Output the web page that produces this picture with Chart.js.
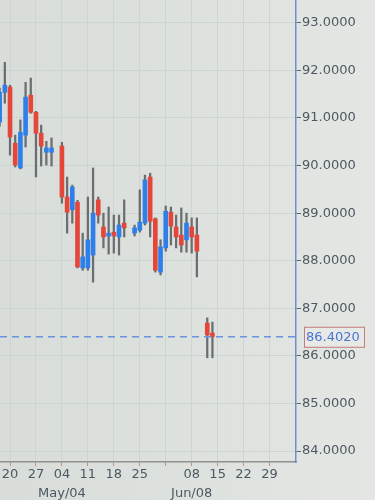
<!DOCTYPE html>
<html>
<head>
<meta charset="utf-8">
<script src="https://cdn.jsdelivr.net/npm/chart.js@4.4.0/dist/chart.umd.min.js"></script>
<style>
  html, body { margin: 0; padding: 0; background: #dfe3e0; }
  #wrap { width: 375px; height: 500px; }
</style>
</head>
<body>
<div id="wrap"><canvas id="price_chart"></canvas></div>
<script>
// trading day index, 0 = Mon Apr 20, five days a week
const days   = [-2, -1, 0, 1, 2, 3, 4, 5, 6, 7, 8, 10, 11, 12, 13, 14, 15, 16, 17, 18, 19, 20, 21, 22, 24, 25, 26, 27, 28, 29, 30, 31, 32, 33, 34, 35, 36, 38, 39]
const opens  = [90.91, 91.54, 91.65, 90.47, 89.95, 90.64, 91.48, 91.12, 90.68, 90.28, 90.28, 90.41, 89.34, 89.07, 89.23, 87.85, 87.85, 88.12, 89.28, 88.71, 88.52, 88.60, 88.50, 88.79, 88.58, 88.64, 88.79, 89.76, 88.88, 87.76, 88.27, 89.02, 88.71, 88.54, 88.44, 88.71, 88.54, 86.69, 86.48]
const highs  = [91.63, 92.17, 91.69, 90.64, 90.96, 91.75, 91.84, 91.14, 90.85, 90.51, 90.58, 90.49, 89.76, 89.59, 89.27, 88.58, 89.34, 89.95, 89.34, 89.00, 89.13, 88.96, 88.96, 89.28, 88.75, 89.49, 89.80, 89.84, 88.90, 88.44, 89.15, 89.13, 88.96, 89.11, 89.00, 88.90, 88.90, 86.80, 86.71]
const lows   = [90.83, 91.31, 90.22, 89.97, 89.93, 90.39, 91.10, 89.76, 89.99, 90.01, 89.99, 89.21, 88.58, 88.79, 87.85, 87.80, 87.80, 87.55, 88.79, 88.27, 88.14, 88.16, 88.12, 88.50, 88.52, 88.60, 88.75, 88.50, 87.76, 87.70, 88.20, 88.33, 88.27, 88.18, 88.18, 88.16, 87.66, 85.96, 85.96]
const closes = [91.54, 91.69, 90.60, 90.01, 90.70, 91.44, 91.12, 90.68, 90.41, 90.37, 90.37, 89.34, 89.02, 89.55, 87.87, 88.08, 88.44, 89.00, 88.96, 88.50, 88.58, 88.52, 88.75, 88.69, 88.69, 88.81, 89.70, 88.83, 87.80, 88.29, 89.04, 88.73, 88.50, 88.33, 88.79, 88.50, 88.20, 86.44, 86.402]

// weekly ticks (every 5 trading days from 0)
const weekLabels  = ['20', '27', '04', '11', '18', '25', '', '08', '15', '22', '29']
const monthLabels = ['', '', 'May/04', '', '', '', '', 'Jun/08', '', '', '']

const upColor = '#2f7fea'
const downColor = '#e4463a'
const wickColor = '#6b6e70'
const gridColor = '#ced4d1'
const textColor = '#4e5860'
const font = { family: 'DejaVu Sans', size: 13 }

const lastPrice = closes[closes.length - 1]

const bodies = days.map((d, i) => ({ x: d, y: [opens[i], closes[i]] }))
const wicks = days.map((d, i) => ({ x: d, y: [lows[i], highs[i]] }))
const bodyColors = days.map((d, i) => closes[i] >= opens[i] ? upColor : downColor)

const backdrop = {
    id: 'backdrop',
    beforeDraw(chart) {
        const ctx = chart.ctx
        const g = ctx.createLinearGradient(0, 0, chart.width, 0)
        g.addColorStop(0, '#d8ddda')
        g.addColorStop(1, '#e3e6e3')
        ctx.save()
        ctx.fillStyle = g
        ctx.fillRect(0, 0, chart.width, chart.height)
        ctx.restore()
    }
}

const priceLine = {
    id: 'priceLine',
    afterDatasetsDraw(chart) {
        const ctx = chart.ctx
        const area = chart.chartArea
        const y = chart.scales.y.getPixelForValue(lastPrice)
        ctx.save()
        ctx.strokeStyle = '#6a92df'
        ctx.lineWidth = 1.5
        ctx.setLineDash([7, 5])
        ctx.beginPath()
        ctx.moveTo(area.left, y)
        ctx.lineTo(area.right, y)
        ctx.stroke()
        ctx.setLineDash([])
        // price tag
        ctx.fillStyle = '#e6e9e6'
        ctx.strokeStyle = '#c77a7a'
        ctx.lineWidth = 1
        ctx.fillRect(area.right + 8, y - 10, 60, 20)
        ctx.strokeRect(area.right + 8.5, y - 9.5, 60, 20)
        ctx.fillStyle = '#4a74d4'
        ctx.font = '13px "DejaVu Sans"'
        ctx.textBaseline = 'middle'
        ctx.fillText(lastPrice.toFixed(4), area.right + 10, y + 1)
        ctx.restore()
    }
}

const priceChart = new Chart(document.getElementById('price_chart').getContext('2d'), {
    type: 'bar',
    data: {
        datasets: [{
            label: 'body',
            data: bodies,
            backgroundColor: bodyColors,
            barThickness: 4,
            grouped: false,
            clip: 0
        },
        {
            label: 'wick',
            data: wicks,
            backgroundColor: wickColor,
            barThickness: 1.6,
            grouped: false,
            clip: 0
        }]
    },
    options: {
        responsive: true,
        maintainAspectRatio: false,
        animation: false,
        layout: { padding: 0 },
        plugins: {
            legend: { display: false },
            tooltip: { enabled: false }
        },
        scales: {
            x: {
                type: 'linear',
                offset: false,
                min: -1.93,
                max: 55.1,
                afterBuildTicks: (scale) => {
                    scale.ticks = scale.ticks.filter(t => t.value >= 0 && t.value <= 50)
                },
                afterFit: (scale) => {
                    scale.height = 38
                    scale.paddingLeft = 0
                    scale.paddingRight = 0
                },
                ticks: {
                    stepSize: 5,
                    includeBounds: false,
                    autoSkip: false,
                    maxRotation: 0,
                    padding: 0,
                    color: textColor,
                    font: { family: 'DejaVu Sans', size: 13, lineHeight: 1.4 },
                    callback: (value) => {
                        const i = Math.round(value / 5)
                        if (monthLabels[i]) return [weekLabels[i], monthLabels[i]]
                        return weekLabels[i] || ''
                    }
                },
                grid: { offset: false, color: gridColor, tickColor: '#cc8a86', tickLength: 4 },
                border: { color: '#8d9290', width: 1.5 }
            },
            y: {
                position: 'right',
                min: 83.77,
                max: 93.48,
                afterFit: (scale) => {
                    scale.width = 79
                    scale.paddingTop = 0
                    scale.paddingBottom = 0
                },
                ticks: {
                    stepSize: 1,
                    includeBounds: false,
                    padding: 1,
                    color: textColor,
                    font: font,
                    callback: (value) => value.toFixed(4)
                },
                grid: { color: gridColor, tickColor: '#5d6468', tickLength: 5 },
                border: { color: '#6d8fcf', width: 1.5 }
            }
        }
    },
    plugins: [backdrop, priceLine]
})
</script>
</body>
</html>
